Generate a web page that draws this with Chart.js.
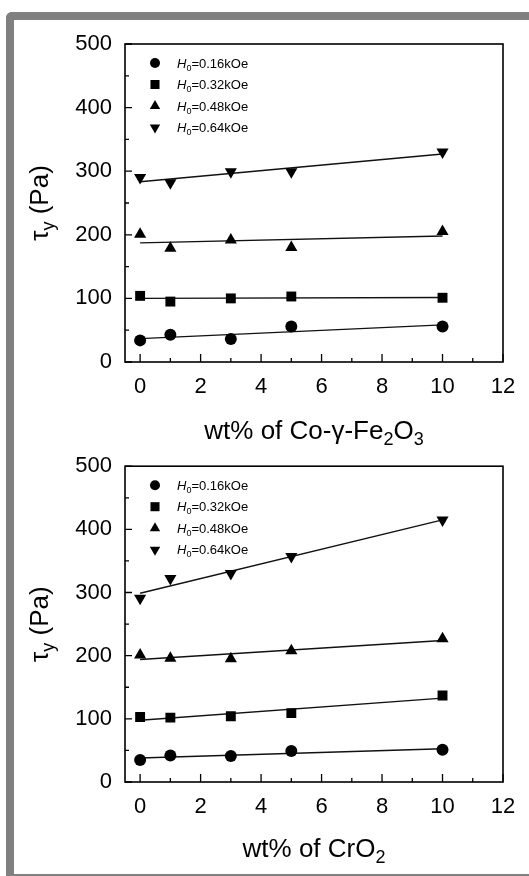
<!DOCTYPE html>
<html>
<head>
<meta charset="utf-8">
<script src="https://cdn.jsdelivr.net/npm/chart.js@4/dist/chart.umd.min.js"></script>
<style>
  html, body { margin: 0; padding: 0; background: #fff; width: 529px; height: 876px; overflow: hidden; }
  #frame {
    position: absolute; left: 6px; top: 12px; width: 600px; height: 870px;
    box-sizing: border-box;
    border-left: 8px solid #808080; border-top: 8px solid #808080; border-bottom: 8px solid #808080;
    border-top-left-radius: 6px;
  }
  canvas { position: absolute; left: 0; }
  #topChart { top: 0; }
  #bottomChart { top: 440px; }
</style>
</head>
<body>
<div id="frame"></div>
<canvas id="topChart" width="529" height="450"></canvas>
<canvas id="bottomChart" width="529" height="436"></canvas>
<script>
// Filler content (wt%) and yield stress tau_y (Pa) at four applied fields H0
const wtPercent = [0, 1, 3, 5, 10];
const fieldLabels = ['0.16', '0.32', '0.48', '0.64'];

// Co-gamma-Fe2O3 filled fluid
const coFe_h016 = [34, 43, 36, 56, 56];
const coFe_h032 = [104, 95, 100, 103, 101];
const coFe_h048 = [201, 179, 192, 180, 205];
const coFe_h064 = [290, 282, 299, 299, 330];

// CrO2 filled fluid
const crO2_h016 = [35, 42, 41, 49, 51];
const crO2_h032 = [103, 102, 104, 109, 137];
const crO2_h048 = [201, 196, 195, 208, 227];
const crO2_h064 = [291, 322, 330, 357, 415];

// Axis ticks
const xTickValues = [0, 2, 4, 6, 8, 10, 12];
const yTickValues = [0, 100, 200, 300, 400, 500];

const FONT = "'Liberation Sans', Arial, Helvetica, sans-serif";
Chart.defaults.font.family = FONT;
Chart.defaults.color = '#000';

const markerStyles = [
  { pointStyle: 'circle', radius: 6, rotation: 0 },
  { pointStyle: 'rect', radius: 7, rotation: 0 },
  { pointStyle: 'triangle', radius: 7, rotation: 0 },
  { pointStyle: 'triangle', radius: 7, rotation: 180 }
];

// least-squares straight line through a series, spanning its x range
function linearFit(xs, ys) {
  const n = xs.length;
  const mx = xs.reduce((s, v) => s + v, 0) / n;
  const my = ys.reduce((s, v) => s + v, 0) / n;
  let sxy = 0, sxx = 0;
  for (let i = 0; i < n; i++) { sxy += (xs[i] - mx) * (ys[i] - my); sxx += (xs[i] - mx) ** 2; }
  const b = sxy / sxx, a = my - b * mx;
  const x0 = Math.min(...xs), x1 = Math.max(...xs);
  return [{ x: x0, y: a + b * x0 }, { x: x1, y: a + b * x1 }];
}

function buildDatasets(seriesList) {
  const sets = [];
  seriesList.forEach((ys, i) => {
    const m = markerStyles[i];
    sets.push({
      label: 'H0=' + fieldLabels[i] + 'kOe',
      data: wtPercent.map((x, k) => ({ x, y: ys[k] })),
      showLine: false,
      pointStyle: m.pointStyle,
      pointRadius: m.radius,
      pointRotation: m.rotation,
      pointBackgroundColor: '#000',
      pointBorderColor: '#000',
      pointBorderWidth: 0,
      order: 1
    });
    sets.push({
      label: 'fit ' + fieldLabels[i],
      type: 'line',
      data: linearFit(wtPercent, ys),
      borderColor: '#111',
      borderWidth: 1.4,
      pointRadius: 0,
      fill: false,
      order: 2
    });
  });
  return sets;
}

// text with italic / subscript runs
function fontOf(p, base) {
  const size = p.sub ? Math.round(base * 0.68) : base;
  return (p.italic ? 'italic ' : '') + size + 'px ' + FONT;
}
function richWidth(ctx, parts, base) {
  let w = 0;
  for (const p of parts) { ctx.font = fontOf(p, base); w += ctx.measureText(p.t).width; }
  return w;
}
function drawRich(ctx, parts, x, y, base, align) {
  let cx = align === 'left' ? x : x - richWidth(ctx, parts, base) / 2;
  ctx.textAlign = 'left';
  ctx.textBaseline = 'alphabetic';
  for (const p of parts) {
    ctx.font = fontOf(p, base);
    ctx.fillText(p.t, cx, y + (p.sub ? base * 0.24 : 0));
    cx += ctx.measureText(p.t).width;
  }
}

function drawMarker(ctx, style, x, y, r, rot) {
  ctx.beginPath();
  if (style === 'circle') {
    ctx.arc(x, y, r, 0, Math.PI * 2);
  } else if (style === 'rect') {
    const h = r * Math.SQRT1_2;
    ctx.rect(x - h, y - h, 2 * h, 2 * h);
  } else {
    let a = rot * Math.PI / 180;
    for (let k = 0; k < 3; k++) {
      const px = x + Math.sin(a) * r, py = y - Math.cos(a) * r;
      if (k === 0) ctx.moveTo(px, py); else ctx.lineTo(px, py);
      a += Math.PI * 2 / 3;
    }
    ctx.closePath();
  }
  ctx.fill();
}

// boxed axes with inward major/minor ticks
const axesFrame = {
  id: 'axesFrame',
  afterDatasetsDraw(chart) {
    const { ctx, chartArea: a, scales: { x, y } } = chart;
    ctx.save();
    ctx.strokeStyle = '#000';
    ctx.lineWidth = 1.6;
    ctx.strokeRect(a.left, a.top, a.right - a.left, a.bottom - a.top);
    ctx.lineWidth = 1.3;
    ctx.beginPath();
    xTickValues.forEach((v, i) => {
      const px = x.getPixelForValue(v);
      ctx.moveTo(px, a.bottom); ctx.lineTo(px, a.bottom - 8);
      if (i < xTickValues.length - 1) {
        const mx = x.getPixelForValue((v + xTickValues[i + 1]) / 2);
        ctx.moveTo(mx, a.bottom); ctx.lineTo(mx, a.bottom - 4);
      }
    });
    yTickValues.forEach((v, i) => {
      const py = y.getPixelForValue(v);
      ctx.moveTo(a.left, py); ctx.lineTo(a.left + 7, py);
      if (i < yTickValues.length - 1) {
        const my = y.getPixelForValue((v + yTickValues[i + 1]) / 2);
        ctx.moveTo(a.left, my); ctx.lineTo(a.left + 4, my);
      }
    });
    ctx.stroke();
    ctx.restore();
  }
};

// in-plot legend and rich axis titles
const annotations = {
  id: 'annotations',
  afterDraw(chart, args, opts) {
    const { ctx, chartArea: a } = chart;
    ctx.save();
    ctx.fillStyle = '#000';
    const rows = [19, 40.5, 62, 83.5];
    const legendMarkers = [
      { s: 'circle', r: 5, rot: 0 }, { s: 'rect', r: 6.4, rot: 0 },
      { s: 'triangle', r: 6, rot: 0 }, { s: 'triangle', r: 6, rot: 180 }
    ];
    rows.forEach((dy, i) => {
      const yy = a.top + dy;
      const m = legendMarkers[i];
      drawMarker(ctx, m.s, 155, yy, m.r, m.rot);
      drawRich(ctx, [
        { t: 'H', italic: true }, { t: '0', sub: true }, { t: '=' + fieldLabels[i] + 'kOe' }
      ], 177, yy + 4.6, 13, 'left');
    });
    // x title
    drawRich(ctx, opts.xTitle, (a.left + a.right) / 2, opts.xTitleY, 26, 'center');
    // y title
    ctx.translate(opts.yTitleX, (a.top + a.bottom) / 2);
    ctx.rotate(-Math.PI / 2);
    drawRich(ctx, [{ t: 'τ' }, { t: 'y', sub: true }, { t: ' (Pa)' }], 0, 0, 26, 'center');
    ctx.restore();
  }
};

function makeChart(canvasId, seriesList, cfg) {
  return new Chart(document.getElementById(canvasId), {
    type: 'scatter',
    data: { datasets: buildDatasets(seriesList) },
    plugins: [axesFrame, annotations],
    options: {
      responsive: false,
      animation: false,
      events: [],
      layout: { padding: { left: 0, right: 26, top: cfg.top, bottom: 0 } },
      plugins: {
        legend: { display: false },
        tooltip: { enabled: false },
        annotations: { xTitle: cfg.xTitle, xTitleY: cfg.xTitleY, yTitleX: 48 }
      },
      scales: {
        x: {
          type: 'linear', min: -0.5, max: 12,
          afterBuildTicks: s => { s.ticks = xTickValues.map(v => ({ value: v })); },
          afterFit: s => { s.height = cfg.xHeight; },
          grid: { display: false, drawTicks: false },
          border: { display: false },
          ticks: { font: { size: 22 }, color: '#000', padding: 12, maxRotation: 0 }
        },
        y: {
          type: 'linear', min: 0, max: 500,
          afterBuildTicks: s => { s.ticks = yTickValues.map(v => ({ value: v })); },
          afterFit: s => { s.width = 125; },
          grid: { display: false, drawTicks: false },
          border: { display: false },
          ticks: { font: { size: 22 }, color: '#000', padding: 13 }
        }
      }
    }
  });
}

makeChart('topChart', [coFe_h016, coFe_h032, coFe_h048, coFe_h064], {
  top: 44, xHeight: 450 - 362,
  xTitleY: 439,
  xTitle: [{ t: 'wt% of Co-' }, { t: 'γ' }, { t: '-Fe' }, { t: '2', sub: true }, { t: 'O' }, { t: '3', sub: true }]
});

makeChart('bottomChart', [crO2_h016, crO2_h032, crO2_h048, crO2_h064], {
  top: 22, xHeight: 436 - 342,
  xTitleY: 417,
  xTitle: [{ t: 'wt% of CrO' }, { t: '2', sub: true }]
});
</script>
</body>
</html>
